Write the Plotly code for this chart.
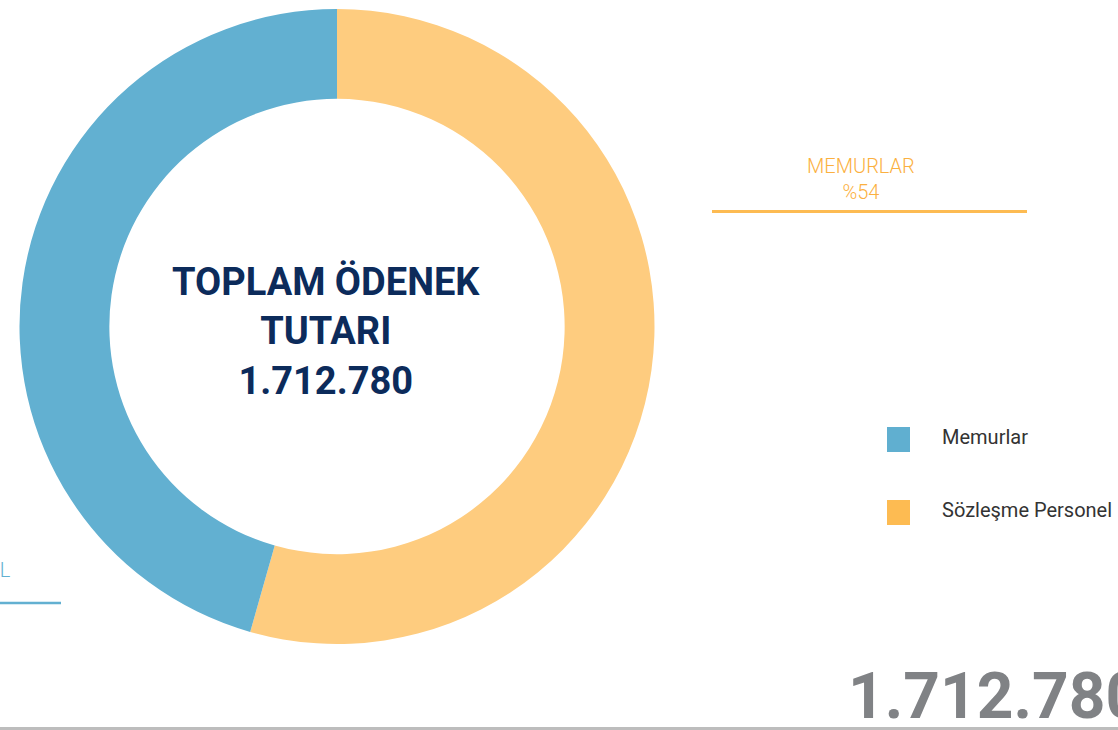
import plotly.graph_objects as go

# ---- data ----
labels = ["Memurlar", "Sözleşme Personel"]
values = [780880, 931900]
total_text = "1.712.780"
slice_colors = ["#62B0D1", "#FECC7F"]
legend_colors = ["#60AFD0", "#FDBB52"]
center_lines = ["TOPLAM ÖDENEK", "TUTARI", total_text]
right_label = ["MEMURLAR", "%54"]
left_label = ["SÖZLEŞME PERSONEL", "%46"]

W, H = 1118, 730

def px(x):
    return x / W

def py(y):
    return 1 - y / H

fig = go.Figure()
# pie drawn with the yellow slice first so it starts at 12 o'clock on the right
fig.add_trace(go.Pie(
    labels=labels[::-1],
    values=values[::-1],
    hole=0.717,
    sort=False,
    direction="counterclockwise",
    rotation=0,
    marker=dict(colors=slice_colors[::-1], line=dict(width=0)),
    textinfo="none",
    showlegend=False,
    domain=dict(x=[px(19), px(655)], y=[py(644), py(9)]),
))

annotations = []
shapes = []

# centre text
annotations.append(dict(
    x=px(326), y=py(331), xref="paper", yref="paper",
    text="<br>".join(center_lines), showarrow=False, align="center",
    xanchor="center", yanchor="middle",
    font=dict(family="Roboto", size=38, color="#0C2B5B", weight="bold"),
))

# right (yellow) label
annotations.append(dict(
    x=px(861), y=py(179), xref="paper", yref="paper",
    text="<br>".join(right_label), showarrow=False, align="center",
    xanchor="center", yanchor="middle",
    font=dict(family="Roboto", size=20, color="#FBB040", weight=300),
))
shapes.append(dict(type="line", xref="paper", yref="paper",
                   x0=px(712), x1=px(1027), y0=py(211.5), y1=py(211.5),
                   line=dict(color=legend_colors[1], width=3)))

# left (blue) label, mostly outside the page
annotations.append(dict(
    x=px(13), y=py(556), xref="paper", yref="paper",
    text="<br>".join(left_label), showarrow=False, align="center",
    xanchor="right", yanchor="top",
    font=dict(family="Roboto", size=20, color="#62B0D1", weight=300),
))
shapes.append(dict(type="line", xref="paper", yref="paper",
                   x0=px(-260), x1=px(61), y0=py(603), y1=py(603),
                   line=dict(color=slice_colors[0], width=2.5)))

# custom legend
legend_y = [439.5, 512.5]
for lab, col, yy in zip(labels, legend_colors, legend_y):
    shapes.append(dict(type="rect", xref="paper", yref="paper",
                       x0=px(887), x1=px(910), y0=py(yy - 12.5), y1=py(yy + 12.5),
                       fillcolor=col, line=dict(width=0)))
    annotations.append(dict(
        x=px(940), y=py(yy - 3), xref="paper", yref="paper",
        text=lab, showarrow=False, xanchor="left", yanchor="middle",
        font=dict(family="Roboto", size=20, color="#333333"),
    ))

# big grey total at bottom right
annotations.append(dict(
    x=px(846), y=py(696), xref="paper", yref="paper",
    text=total_text, showarrow=False, xanchor="left", yanchor="middle",
    font=dict(family="Roboto", size=64, color="#808285", weight="bold"),
))
shapes.append(dict(type="line", xref="paper", yref="paper",
                   x0=0, x1=1, y0=py(728.5), y1=py(728.5),
                   line=dict(color="#BDBDBD", width=3)))

fig.update_layout(
    width=W, height=H,
    margin=dict(l=0, r=0, t=0, b=0),
    paper_bgcolor="white", plot_bgcolor="white",
    annotations=annotations, shapes=shapes,
    showlegend=False,
)

fig.write_html("out.html",
               config={"displayModeBar": False},
               post_script="document.body.style.margin='0px';document.body.style.overflow='hidden';")
